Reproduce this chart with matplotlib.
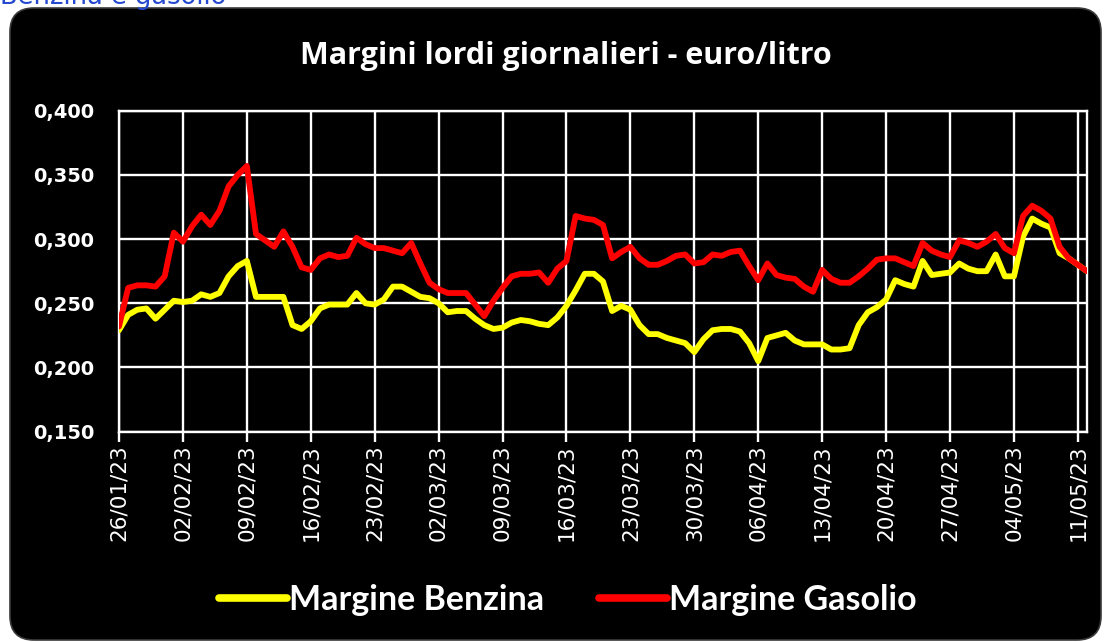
import matplotlib
matplotlib.use('Agg')
import matplotlib.pyplot as plt
import matplotlib.dates as mdates
import matplotlib.ticker as mticker
from matplotlib.patches import FancyBboxPatch
from matplotlib.transforms import IdentityTransform
import pandas as pd

# ---------------- data ----------------
dates = pd.date_range('2023-01-26', '2023-05-12', freq='D')

margine_benzina = [
    0.229, 0.241, 0.245, 0.246, 0.238, 0.245, 0.252, 0.251, 0.252, 0.257,
    0.255, 0.258, 0.271, 0.279, 0.283, 0.255, 0.255, 0.255, 0.255, 0.233,
    0.230, 0.236, 0.246, 0.249, 0.249, 0.249, 0.258, 0.250, 0.249, 0.253,
    0.263, 0.263, 0.259, 0.255, 0.254, 0.250, 0.243, 0.244, 0.244, 0.238,
    0.233, 0.230, 0.231, 0.235, 0.237, 0.236, 0.234, 0.233, 0.239, 0.248,
    0.260, 0.273, 0.273, 0.267, 0.244, 0.248, 0.245, 0.233, 0.226, 0.226,
    0.223, 0.221, 0.219, 0.212, 0.222, 0.229, 0.230, 0.230, 0.228, 0.219,
    0.205, 0.223, 0.225, 0.227, 0.221, 0.218, 0.218, 0.218, 0.214, 0.214,
    0.215, 0.233, 0.243, 0.247, 0.253, 0.268, 0.265, 0.263, 0.283, 0.272,
    0.273, 0.274, 0.281, 0.277, 0.275, 0.275, 0.288, 0.271, 0.271, 0.302,
    0.316, 0.312, 0.309, 0.289, 0.285, 0.280, 0.275,
]

margine_gasolio = [
    0.232, 0.262, 0.264, 0.264, 0.263, 0.271, 0.305, 0.298, 0.310, 0.319,
    0.311, 0.322, 0.341, 0.350, 0.357, 0.304, 0.299, 0.294, 0.306, 0.294,
    0.278, 0.276, 0.285, 0.288, 0.286, 0.287, 0.301, 0.296, 0.293, 0.293,
    0.291, 0.289, 0.297, 0.281, 0.266, 0.261, 0.258, 0.258, 0.258, 0.249,
    0.240, 0.252, 0.262, 0.271, 0.273, 0.273, 0.274, 0.266, 0.277, 0.283,
    0.318, 0.316, 0.315, 0.311, 0.285, 0.290, 0.294, 0.285, 0.280, 0.280,
    0.283, 0.287, 0.288, 0.281, 0.282, 0.288, 0.287, 0.290, 0.291, 0.279,
    0.268, 0.281, 0.272, 0.270, 0.269, 0.263, 0.259, 0.276, 0.269, 0.266,
    0.266, 0.271, 0.277, 0.284, 0.285, 0.285, 0.282, 0.279, 0.297, 0.291,
    0.288, 0.286, 0.299, 0.297, 0.294, 0.298, 0.304, 0.293, 0.289, 0.318,
    0.326, 0.322, 0.316, 0.294, 0.285, 0.280, 0.275,
]

series_labels = ['Margine Benzina', 'Margine Gasolio']
series_colors = ['#ffff00', '#ff0000']
title = 'Margini lordi giornalieri - euro/litro'
header = 'Benzina e gasolio'

# ---------------- figure ----------------
W, H = 1107, 642
fig = plt.figure(figsize=(W / 100, H / 100), dpi=100)
fig.patch.set_facecolor('white')

# header text (cut off at the top, as in the reference)
fig.text(0.0, 1 - 4 / H, header, color='#2449d0', fontsize=18.5,
         family='DejaVu Sans', ha='left', va='baseline')

# black rounded panel
panel = FancyBboxPatch((10, H - 640), 1091, 632,
                       boxstyle='round,pad=0,rounding_size=24',
                       transform=IdentityTransform(),
                       facecolor='black', edgecolor='#3a3a3a', linewidth=1.2,
                       zorder=0)
fig.add_artist(panel)

left, right, top, bottom = 119, 1087, 110.7, 431.7
ax = fig.add_axes([left / W, 1 - bottom / H, (right - left) / W, (bottom - top) / H])
ax.set_facecolor('black')

l1, = ax.plot(dates, margine_benzina, color=series_colors[0], lw=4.2,
              solid_joinstyle='round', solid_capstyle='round',
              label=series_labels[0], zorder=3)
l2, = ax.plot(dates, margine_gasolio, color=series_colors[1], lw=4.2,
              solid_joinstyle='round', solid_capstyle='round',
              label=series_labels[1], zorder=4)

ax.set_ylim(0.150, 0.400)
ax.set_xlim(dates[0], dates[-1])
ax.yaxis.set_major_locator(mticker.MultipleLocator(0.05))
ax.yaxis.set_major_formatter(mticker.FuncFormatter(lambda v, p: f'{v:.3f}'.replace('.', ',')))

xt = pd.date_range(dates[0], dates[-1], freq='7D')
ax.set_xticks(xt)
ax.xaxis.set_major_formatter(mdates.DateFormatter('%d/%m/%y'))

ax.grid(True, color='white', linewidth=1.7)
ax.set_axisbelow(True)
for s in ax.spines.values():
    s.set_color('white')
    s.set_linewidth(1.7)

ax.tick_params(axis='x', colors='white', length=7, width=1.7, direction='out',
               pad=2, labelsize=15.5, labelrotation=90)
ax.tick_params(axis='y', colors='white', length=0, pad=18, labelsize=14)
for lab in ax.get_yticklabels():
    lab.set_fontweight('bold')
    lab.set_family('DejaVu Sans')
for lab in ax.get_xticklabels():
    lab.set_family('DejaVu Sans')

fig.text(566 / W, 1 - 64 / H, title, color='white', fontsize=22,
         fontweight='bold', family='Open Sans', ha='center', va='baseline')

leg = fig.legend(handles=[l1, l2], loc='center', bbox_to_anchor=(568 / W, 1 - 600 / H),
                 ncol=2, frameon=False, handlelength=2.0, handletextpad=0.06,
                 columnspacing=1.6, prop={'family': 'Lato', 'weight': 'bold', 'size': 24.5})
for t in leg.get_texts():
    t.set_color('white')
for h in leg.get_lines():
    h.set_linewidth(5.5)

fig.savefig('out.png', dpi=100, facecolor='white')
